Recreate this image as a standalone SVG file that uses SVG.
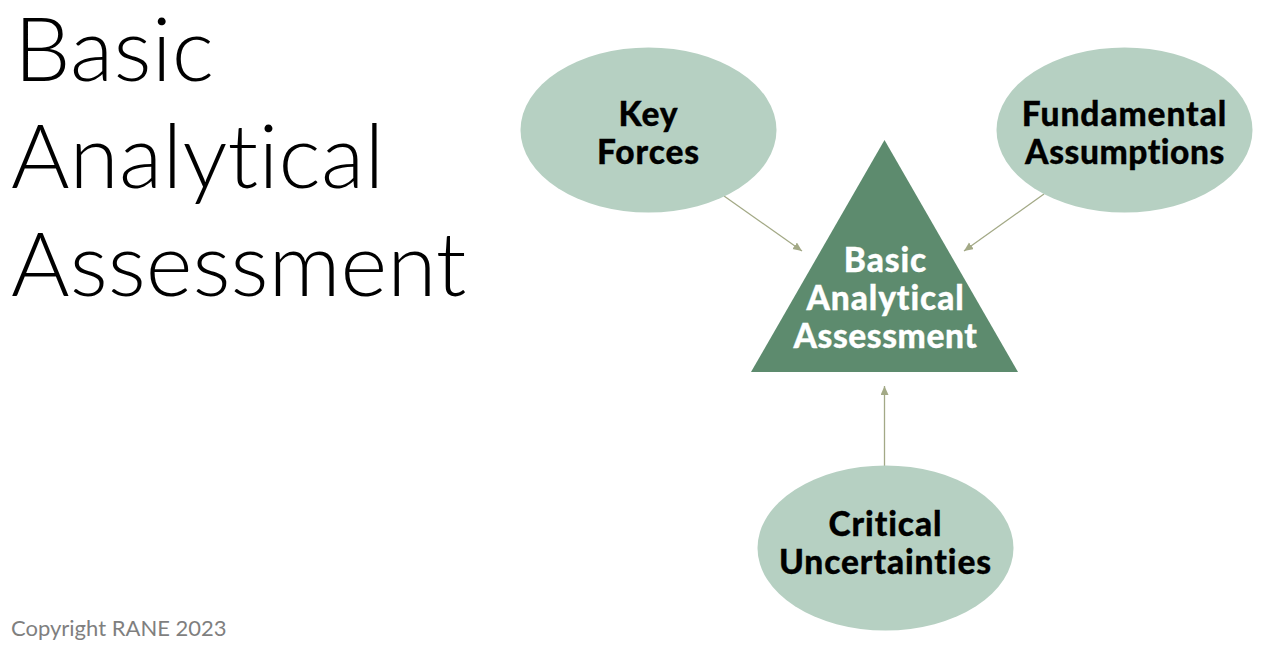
<svg xmlns="http://www.w3.org/2000/svg" width="1280" height="651" viewBox="0 0 1280 651">
<defs>
<style>
text{font-variant-ligatures:none}
.title{font-family:Lato,sans-serif;font-weight:300;font-size:89.500px;fill:#000}
.lbl{font-family:Lato,sans-serif;font-weight:900;font-size:33.500px;letter-spacing:.9px;text-anchor:middle;fill:#000;stroke:#000;stroke-width:.3px}
.w{fill:#fff;stroke:#fff}
.n{letter-spacing:.55px}
.e{fill:#b6d0c2}
.c{stroke:#a3a986;stroke-width:1.3;fill:none;marker-end:url(#a)}
</style>
<marker id="a" markerUnits="userSpaceOnUse" markerWidth="10" markerHeight="10" refX="9" refY="4" orient="auto"><path d="M0 0L9 4L0 8Z" fill="#a3a986"/></marker>
</defs>
<rect width="1280" height="651" fill="#fff"/>
<text class="title" x="14" y="81" letter-spacing=".2">Basic</text>
<text class="title" x="11" y="188" letter-spacing=".2">Analytical</text>
<text class="title" x="11" y="296">Assessment</text>
<text x="11" y="636" font-family="Lato,sans-serif" font-size="22" fill="#7f7f7f">Copyright RANE 2023</text>
<g id="connectors">
<path class="c" d="M724 196L802 251"/>
<path class="c" d="M1044 194L964 251"/>
<path class="c" d="M884.500 466V386"/>
</g>
<g id="key-forces"><ellipse class="e" cx="648.500" cy="130" rx="128" ry="82.500"/><text class="lbl" x="648.500" y="125.500">Key</text><text class="lbl" x="648.500" y="163.500">Forces</text></g>
<g id="fundamental-assumptions"><ellipse class="e" cx="1124.500" cy="130" rx="128" ry="82.500"/><text class="lbl" x="1124.500" y="125.500">Fundamental</text><text class="lbl n" x="1125" y="163.500">Assumptions</text></g>
<g id="basic-analytical-assessment"><path d="M884.500 140L1018 372H751Z" fill="#5d8b6e"/><text class="lbl w" x="885.500" y="271.500">Basic</text><text class="lbl w" x="885.500" y="309.500">Analytical</text><text class="lbl w n" x="885.500" y="347.500">Assessment</text></g>
<g id="critical-uncertainties"><ellipse class="e" cx="885.500" cy="548" rx="128" ry="82.500"/><text class="lbl" x="885.500" y="535.500">Critical</text><text class="lbl" x="885.500" y="573.500">Uncertainties</text></g>
</svg>
